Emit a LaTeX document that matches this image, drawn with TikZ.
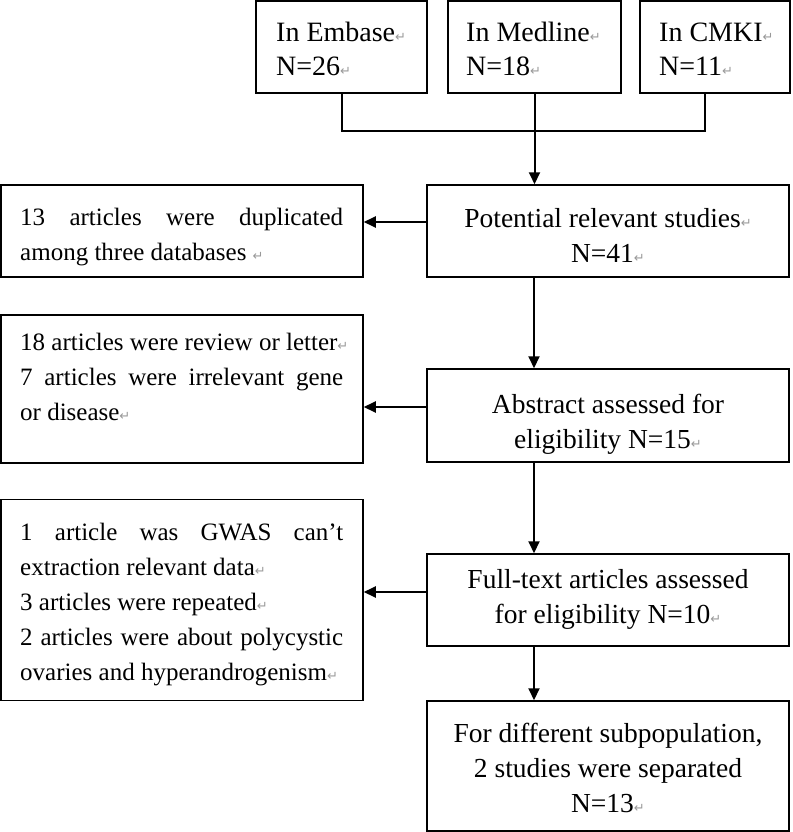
\documentclass[tikz,border=0pt]{standalone}
\usepackage{fontspec}
\setmainfont{Liberation Serif}
\newfontfamily\dejavu{DejaVu Sans}
\usetikzlibrary{arrows.meta}
\definecolor{pmgray}{gray}{0.6}
\newcommand\parmark{{\dejavu\fontsize{13pt}{13pt}\selectfont\color{pmgray}↵}}
\newcommand\Lline[1]{\makebox[323pt][l]{\vphantom{Ild}#1}}
\newcommand\Jline[1]{\makebox[323pt][s]{\vphantom{Ild}#1}}
\newcommand\tp{\vphantom{Ild}}
\begin{document}
\begin{tikzpicture}[x=1pt,y=-1pt,
  box/.style={draw, line width=1.5pt, inner sep=0pt, rectangle},
  ltxt/.style={inner sep=0pt, anchor=north west, align=left, font=\fontsize{25pt}{35pt}\selectfont},
  ctxt/.style={inner sep=0pt, anchor=north, align=center, font=\fontsize{27.5pt}{35pt}\selectfont},
  ttxt/.style={inner sep=0pt, anchor=north west, align=left, font=\fontsize{28pt}{34pt}\selectfont},
  conn/.style={line width=2pt},
  arr/.style={line width=2pt, -{Triangle[length=12pt,width=11pt]}}]
\useasboundingbox (0,0) rectangle (792,832);

% boxes
\node[box, minimum width=171pt, minimum height=92pt] (emb) at (341.5,47) {};
\node[box, minimum width=173pt, minimum height=92pt] (med) at (534.5,47) {};
\node[box, minimum width=150pt, minimum height=92pt] (cmk) at (715,47) {};
\node[box, minimum width=362pt, minimum height=92pt] (pot) at (608,231) {};
\node[box, minimum width=362pt, minimum height=92pt] (dup) at (182,231) {};
\node[box, minimum width=362pt, minimum height=93pt] (abs) at (608,415.5) {};
\node[box, minimum width=362pt, minimum height=148pt] (rev) at (182,389) {};
\node[box, minimum width=362pt, minimum height=92pt] (ful) at (608,600) {};
\node[box, minimum width=362pt, minimum height=201pt] (gwa) at (182,600) {};
\node[box, minimum width=362pt, minimum height=130pt] (fin) at (608,766) {};

% texts
\node[ttxt] (embt) at (276,21.5) {\tp In Embase\parmark\\N=26\parmark};
\node[ttxt] (medt) at (466,21.5) {\tp In Medline\parmark\\N=18\parmark};
\node[ttxt] (cmkt) at (659,21.5) {\tp In CMKI\parmark\\N=11\parmark};
\node[ctxt] (pott) at (608,208) {\tp Potential relevant studies\parmark\\N=41\parmark};
\node[ltxt] (dupt) at (20,208) {\Jline{13 articles were duplicated}\\\Lline{among three databases \parmark}};
\node[ltxt] (revt) at (20,333) {\Lline{18 articles were review or letter\parmark}\\\Jline{7 articles were irrelevant gene}\\\Lline{or disease\parmark}};
\node[ctxt] (abst) at (608,394) {\tp Abstract assessed for\\eligibility N=15\parmark};
\node[ltxt] (gwat) at (20,523) {\Jline{1 article was GWAS can’t}\\\Lline{extraction relevant data\parmark}\\\Lline{3 articles were repeated\parmark}\\\Jline{2 articles were about polycystic}\\\Lline{ovaries and hyperandrogenism\parmark}};
\node[ctxt] (fult) at (608,569) {\tp Full-text articles assessed\\for eligibility N=10\parmark};
\node[ctxt] (fint) at (608,723) {\tp For different subpopulation,\\2 studies were separated\\N=13\parmark};

% connectors
\coordinate (jn) at (534,131);
\draw[conn] (emb.south) |- (jn) -| ([xshift=-10pt]cmk.south);
\draw[arr] (med.south) -- (med.south |- pot.north);
\coordinate (a1) at ([yshift=9pt]pot.west);
\draw[arr] (a1) -- (a1 -| dup.east);
\draw[arr] (pot.south -| jn) -- (abs.north -| jn);
\coordinate (a2) at ([yshift=8.5pt]abs.west);
\draw[arr] (a2) -- (a2 -| rev.east);
\draw[arr] (abs.south -| jn) -- (ful.north -| jn);
\coordinate (a3) at ([yshift=8pt]ful.west);
\draw[arr] (a3) -- (a3 -| gwa.east);
\draw[arr] (ful.south -| jn) -- (fin.north -| jn);
\end{tikzpicture}
\end{document}
